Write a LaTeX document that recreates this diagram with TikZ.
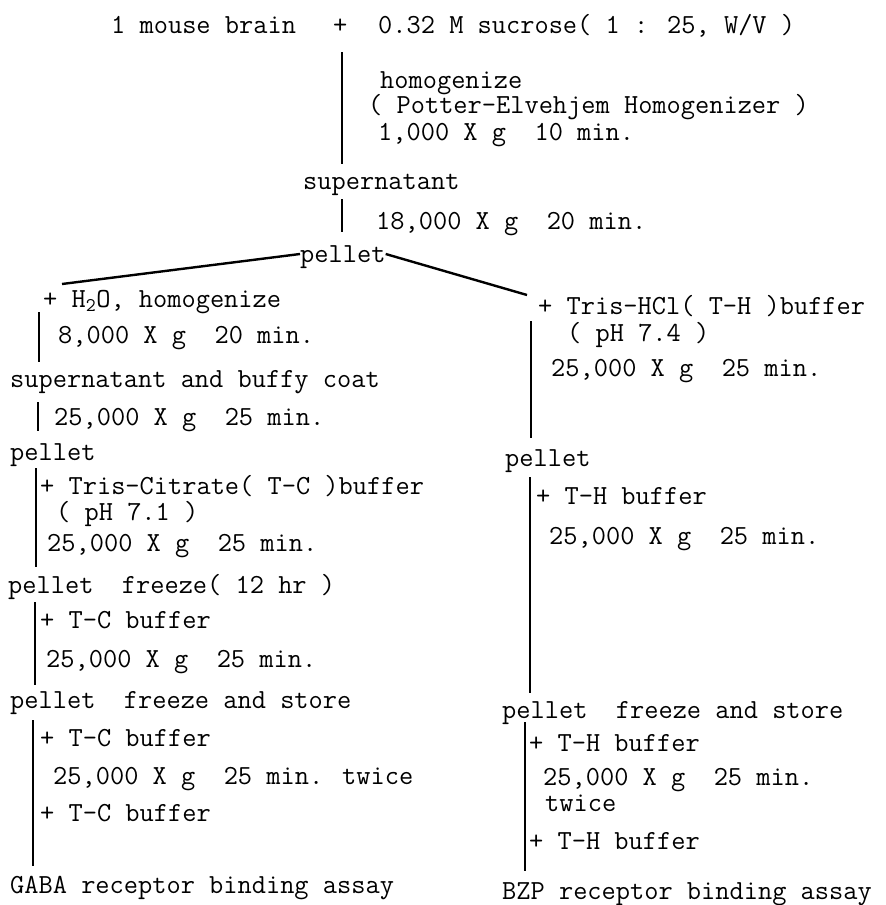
\documentclass[tikz,border=0pt]{standalone}
\usepackage{tikz}

\begin{document}
\begin{tikzpicture}[x=1pt,y=-1pt,
  txt/.style={anchor=west, inner sep=0pt, text height=17pt, text depth=0pt,
    font=\ttfamily\fontsize{27.6}{30}\selectfont},
  bar/.style={black, line width=2.2pt},
  branch/.style={black, line width=2.4pt}]
\useasboundingbox (0,0) rectangle (886,905);

% top of the scheme
\node[txt] (brain) at (111,25) {1 mouse brain};
\node[txt] (plus) at (333,25) {+};
\node[txt] (sucr) at (378,25) {0.32 M sucrose( 1 : 25, W/V )};
\node[txt] (homo) at (380,80) {homogenize};
\node[txt] (potter) at (368,105) {( Potter-Elvehjem Homogenizer )};
\node[txt] (spin1) at (378,132) {1,000 X g\ \ 10 min.};
\node[txt] (sup1) at (303,181) {supernatant};
\node[txt] (spin2) at (376,221) {18,000 X g\ \ 20 min.};
\node[txt] (pel0) at (300,254) {pellet};

\coordinate (T1a) at (342,52);
\coordinate (T1b) at (342,164);
\coordinate (T2a) at (342,199);
\coordinate (T2b) at (342,232);
\path[bar] (T1a) edge (T1b);
\path[bar] (T2a) edge (T2b);

% the two branches
\coordinate (BL) at (62,284);
\coordinate (BR) at (527,295);
\path[branch] (pel0.west) edge (BL);
\path[branch] (pel0.east) edge (BR);

% left column (GABA)
\node[txt] (addL1) at (43,299) {+ H\textsubscript{2}O, homogenize};
\node[txt] (spinL1) at (58,335) {8,000 X g\ \ 20 min.};
\node[txt] (supL) at (10,379) {supernatant and buffy coat};
\node[txt] (spinL2) at (54,417) {25,000 X g\ \ 25 min.};
\node[txt] (pelL1) at (10,452) {pellet};
\node[txt] (addL2) at (40,486) {+ Tris-Citrate( T-C )buffer};
\node[txt] (phL) at (56,512) {( pH 7.1 )};
\node[txt] (spinL3) at (47,543) {25,000 X g\ \ 25 min.};
\node[txt] (pelL2) at (8,585) {pellet\ \ freeze( 12 hr )};
\node[txt] (addL3) at (40,620) {+ T-C buffer};
\node[txt] (spinL4) at (46,659) {25,000 X g\ \ 25 min.};
\node[txt] (pelL3) at (10,700) {pellet\ \ freeze and store};
\node[txt] (addL4) at (40,738) {+ T-C buffer};
\node[txt] (spinL5) at (53,776) {25,000 X g\ \ 25 min. twice};
\node[txt] (addL5) at (40,813) {+ T-C buffer};
\node[txt] (gaba) at (10,885) {GABA receptor binding assay};

\coordinate (L1a) at (39,312);
\coordinate (L1b) at (39,362);
\coordinate (L2a) at (38,402);
\coordinate (L2b) at (38,431);
\coordinate (L3a) at (36,468);
\coordinate (L3b) at (36,567);
\coordinate (L4a) at (35,602);
\coordinate (L4b) at (35,685);
\coordinate (L5a) at (33,720);
\coordinate (L5b) at (33,866);
\path[bar] (L1a) edge (L1b);
\path[bar] (L2a) edge (L2b);
\path[bar] (L3a) edge (L3b);
\path[bar] (L4a) edge (L4b);
\path[bar] (L5a) edge (L5b);

% right column (BZP)
\node[txt] (addR1) at (538,306) {+ Tris-HCl( T-H )buffer};
\node[txt] (phR) at (567,333) {( pH 7.4 )};
\node[txt] (spinR1) at (551,368) {25,000 X g\ \ 25 min.};
\node[txt] (pelR1) at (505,458) {pellet};
\node[txt] (addR2) at (536,496) {+ T-H buffer};
\node[txt] (spinR2) at (549,536) {25,000 X g\ \ 25 min.};
\node[txt] (pelR2) at (502,710) {pellet\ \ freeze and store};
\node[txt] (addR3) at (529,743) {+ T-H buffer};
\node[txt] (spinR3) at (543,777) {25,000 X g\ \ 25 min.};
\node[txt] (twiceR) at (545,803) {twice};
\node[txt] (addR4) at (529,841) {+ T-H buffer};
\node[txt] (bzp) at (502,891) {BZP receptor binding assay};

\coordinate (R1a) at (531,321);
\coordinate (R1b) at (531,438);
\coordinate (R2a) at (530,477);
\coordinate (R2b) at (530,693);
\coordinate (R3a) at (525,722);
\coordinate (R3b) at (525,871);
\path[bar] (R1a) edge (R1b);
\path[bar] (R2a) edge (R2b);
\path[bar] (R3a) edge (R3b);
\end{tikzpicture}
\end{document}
